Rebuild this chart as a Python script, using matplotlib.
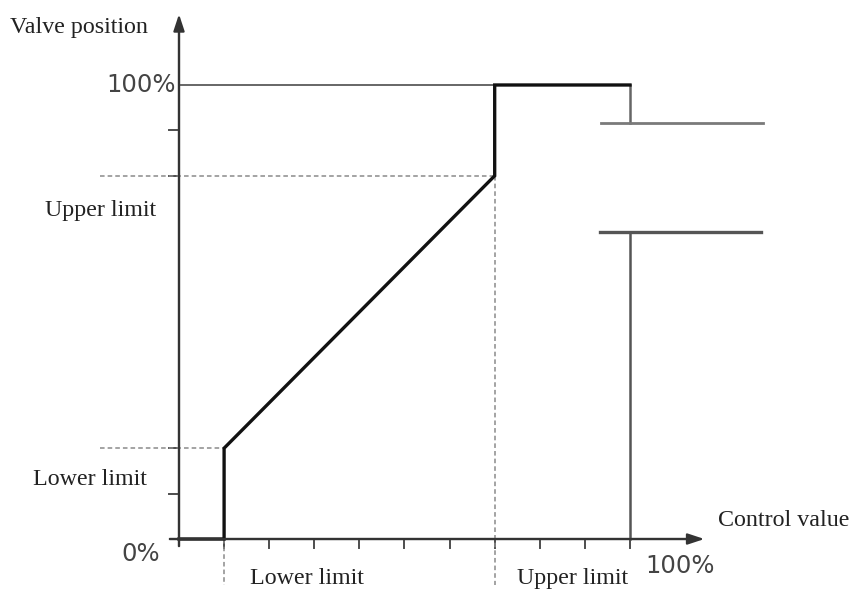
import matplotlib.pyplot as plt

# valve characteristic (control value % -> valve position %)
ctrl = [0, 10, 10, 70, 70, 100]
valve = [0, 0, 20, 80, 100, 100]
lower_limit = (10, 20)
upper_limit = (70, 80)
x_ticks = [10, 20, 30, 40, 50, 60, 70, 80, 90, 100]
y_ticks = [10, 20, 80, 90]
break_lo, break_hi = 67.6, 91.6

fig = plt.figure(figsize=(8.53, 5.9), dpi=100)
ax = fig.add_axes([0, 0, 1, 1])
ax.set_xlim(-39.69, 149.45)
ax.set_ylim(-11.23, 118.72)
ax.axis('off')

axc = '#4d4d4d'
serif = 'Liberation Serif'
fs = 17.3

# axes with arrows
ax.annotate('', xy=(0, 115.6), xytext=(0, -1.5),
            arrowprops=dict(arrowstyle='-|>,head_length=1.0,head_width=0.33', color='#333333', lw=1.6,
                            shrinkA=0, shrinkB=0))
ax.annotate('', xy=(116.5, 0), xytext=(-2, 0),
            arrowprops=dict(arrowstyle='-|>,head_length=1.0,head_width=0.33', color='#333333', lw=1.6,
                            shrinkA=0, shrinkB=0))
ax.plot([0, 0], [-1.5, 112], color=axc, lw=1.6)
ax.plot([-2, 113], [0, 0], color=axc, lw=1.6)

# ticks
for t in x_ticks:
    ax.plot([t, t], [0, -2.0], color=axc, lw=1.4)
for t in y_ticks:
    ax.plot([0, -2.2], [t, t], color=axc, lw=1.4)

# 100% reference line
ax.plot([0, upper_limit[0]], [100, 100], color='#666666', lw=1.4)

# dashed guide lines
dash = dict(color='#8a8a8a', lw=1.1, ls=(0, (3, 2)))
ax.plot([-17.5, lower_limit[0]], [lower_limit[1]] * 2, **dash)
ax.plot([-17.5, upper_limit[0]], [upper_limit[1]] * 2, **dash)
ax.plot([lower_limit[0]] * 2, [0, -10.1], **dash)
ax.plot([upper_limit[0]] * 2, [upper_limit[1], -10.1], **dash)

# vertical at 100% with break
ax.plot([100, 100], [100, break_hi], color='#666666', lw=1.8)
ax.plot([100, 100], [break_lo, 0], color='#555555', lw=1.8)
ax.plot([93.6, 129.5], [break_hi, break_hi], color='#7a7a7a', lw=2.0)
ax.plot([93.4, 129.0], [break_lo, break_lo], color='#555555', lw=2.4)

# characteristic
ax.plot(ctrl, valve, color='#111111', lw=2.4, solid_joinstyle='miter')

# labels
ax.text(-37.5, 112.6, 'Valve position', family=serif, fontsize=fs, ha='left', va='center', color='#222222')
ax.text(-0.8, 100, '100%', fontsize=17.5, ha='right', va='center', color='#444444')
ax.text(-29.7, 72.3, 'Upper limit', family=serif, fontsize=fs, ha='left', va='center', color='#222222')
ax.text(-32.4, 13.0, 'Lower limit', family=serif, fontsize=fs, ha='left', va='center', color='#222222')
ax.text(-4.2, -3.4, '0%', fontsize=17.5, ha='right', va='center', color='#444444')
ax.text(15.7, -8.6, 'Lower limit', family=serif, fontsize=fs, ha='left', va='center', color='#222222')
ax.text(74.9, -8.6, 'Upper limit', family=serif, fontsize=fs, ha='left', va='center', color='#222222')
ax.text(103.3, -6.0, '100%', fontsize=17.5, ha='left', va='center', color='#444444')
ax.text(119.5, 4.0, 'Control value', family=serif, fontsize=fs, ha='left', va='center', color='#222222')

fig.savefig('out.png', dpi=100)
